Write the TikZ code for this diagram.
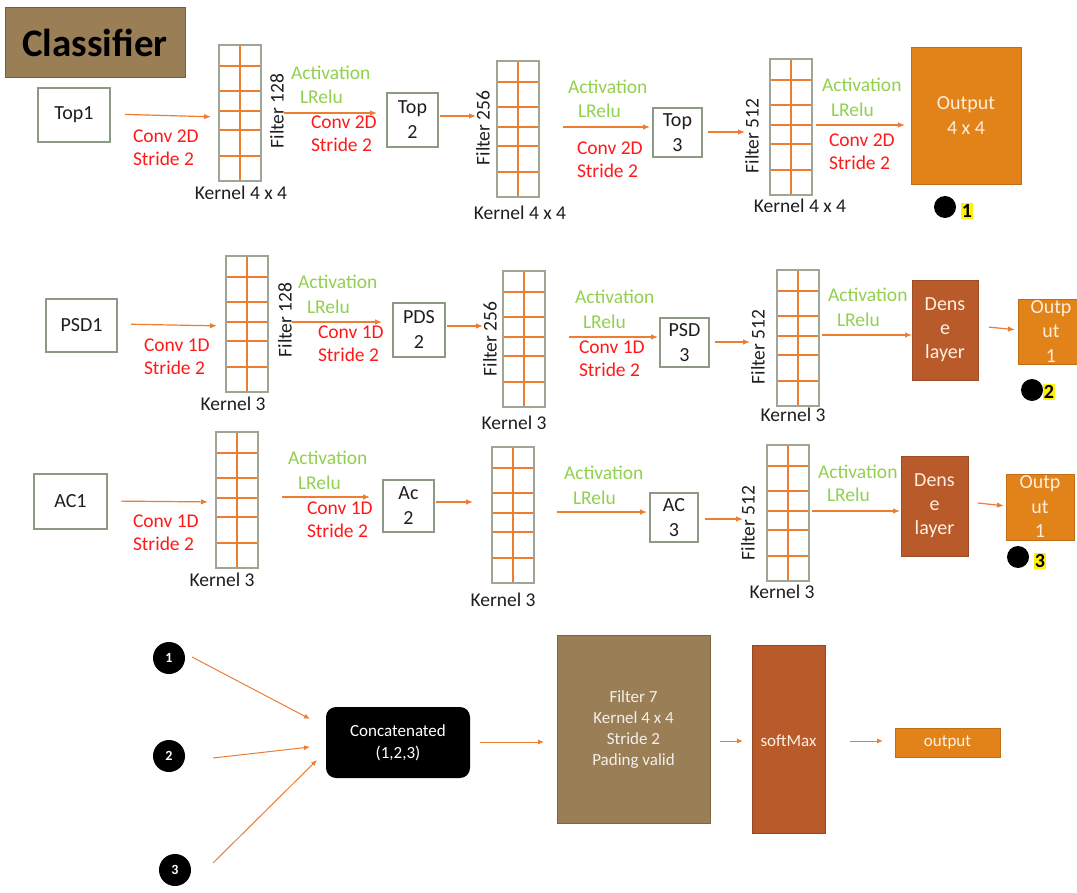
\documentclass[tikz,border=0pt]{standalone}
\usepackage{fontspec}
\setmainfont{Carlito}
\usetikzlibrary{arrows.meta,calc}

\definecolor{arrorange}{HTML}{ED7D31}
\definecolor{gridgray}{HTML}{9CA893}
\definecolor{boxgray}{HTML}{8C9985}
\definecolor{convred}{HTML}{FF1A1A}
\definecolor{actgreen}{HTML}{92D050}
\definecolor{outorange}{HTML}{E2831A}
\definecolor{denserust}{HTML}{B95A2B}
\definecolor{mocha}{HTML}{9A7E56}
\definecolor{inktext}{HTML}{1E1E1E}

\tikzset{
  base/.style={inner sep=0pt, outer sep=0pt},
  boxnode/.style={base, draw=boxgray, line width=1.8pt, fill=white, align=center,
    text=inktext, font=\fontsize{20}{25}\selectfont},
  outnode/.style={base, draw=outorange!85!black, line width=0.8pt, fill=outorange,
    align=center, text=white!85!orange, font=\fontsize{20}{24.5}\selectfont},
  densenode/.style={base, draw=denserust!85!black, line width=0.8pt, fill=denserust,
    align=center, text=white!88!orange, font=\fontsize{20}{24}\selectfont},
  gridcell/.style={base, minimum width=42pt, minimum height=136pt},
  gridframe/.style={draw=gridgray, line width=1.6pt},
  gridline/.style={draw=arrorange, line width=1.3pt},
  convlbl/.style={base, anchor=west, align=left, text=convred, font=\fontsize{19.5}{23}\selectfont},
  actlbl/.style={base, anchor=west, text=actgreen, font=\fontsize{19.5}{23}\selectfont},
  kernlbl/.style={base, text=inktext, font=\fontsize{19.5}{23}\selectfont},
  filtlbl/.style={base, rotate=90, text=inktext, font=\fontsize{19.5}{23}\selectfont},
  arr/.style={draw=arrorange, line width=1.2pt, -{Latex[length=7pt,width=5.5pt]}},
  thinarr/.style={draw=arrorange, line width=1pt, -{Latex[length=6pt,width=5pt]}},
  dotnode/.style={base, circle, fill=black, minimum size=22pt},
  tagnum/.style={base, fill=yellow, inner xsep=1pt, inner ysep=1.5pt, text=black,
    font=\bfseries\fontsize{20}{20}\selectfont},
  refcirc/.style={base, circle, fill=black, minimum size=32pt, text=white,
    font=\bfseries\fontsize{14}{14}\selectfont},
  titlebox/.style={base, fill=mocha, draw=mocha!75!black, line width=1pt,
    minimum width=180pt, minimum height=70pt, text=black,
    font=\bfseries\fontsize{39}{39}\selectfont},
  bigbox/.style={base, align=center, text=white!88!mocha, font=\fontsize{17}{21}\selectfont},
}

% kernel grid: name, left x, top y
\newcommand\kgrid[3]{%
  \node[gridcell] (#1) at (#2+21,#3+68) {};
  \draw[gridline] (#1.north) -- (#1.south);
  \foreach \f in {0.154,0.338,0.485,0.625,0.816}
    \draw[gridline] ($(#1.north west)!\f!(#1.south west)$) -- ($(#1.north east)!\f!(#1.south east)$);
  \draw[gridframe] (#1.north west) rectangle (#1.south east);
}

% horizontal connector: from, to, start y, end y, start gap, end gap
\newcommand\conn[6]{%
  \draw[arr, shorten <=#5pt, shorten >=#6pt] (#1.east |- 0,#3) -- (#2.west |- 0,#4);
}

\begin{document}
\begin{tikzpicture}[x=1pt,y=-1pt]
\clip (0,0) rectangle (1077,893);
\fill[white] (0,0) rectangle (1077,893);

\node[titlebox] (title) at (95,43) {Classifier};

% ---------- row 1: Top ----------
\node[boxnode, minimum width=72pt, minimum height=54pt] (top1) at (74,115) {Top1};
\kgrid{g1a}{219}{45}
\node[boxnode, minimum width=51pt, minimum height=54pt] (top2) at (412.5,120) {Top\\2};
\kgrid{g1b}{497}{61}
\node[boxnode, minimum width=49pt, minimum height=49pt] (top3) at (677.5,132.5) {Top\\3};
\kgrid{g1c}{770}{59}
\node[outnode, minimum width=110pt, minimum height=137pt] (out1) at (966,115.5) {};
\node[base, text=white!85!orange, align=center, font=\fontsize{20}{25}\selectfont] (out1txt) at (966,115.5) {Output\\4 x 4};

\node[convlbl] (cv1a) at (133,148) {Conv 2D\\Stride 2};
\node[actlbl] (ac1a) at (291,73) {Activation};
\node[actlbl] (lr1a) at (300,97) {LRelu};
\node[convlbl] (cv1b) at (311,134) {Conv 2D\\Stride 2};
\node[actlbl] (ac1b) at (568,87) {Activation};
\node[actlbl] (lr1b) at (578,111) {LRelu};
\node[convlbl] (cv1c) at (577,160) {Conv 2D\\Stride 2};
\node[actlbl] (ac1c) at (822,85) {Activation};
\node[actlbl] (lr1c) at (831,110) {LRelu};
\node[convlbl] (cv1d) at (829,152) {Conv 2D\\Stride 2};

\node[kernlbl] (k1a) at (241,193) {Kernel 4 x 4};
\node[kernlbl] (k1b) at (520,213) {Kernel 4 x 4};
\node[kernlbl] (k1c) at (800,206) {Kernel 4 x 4};
\node[filtlbl] (f1a) at (277,111) {Filter 128};
\node[filtlbl] (f1b) at (483,128) {Filter 256};
\node[filtlbl] (f1c) at (752,136) {Filter 512};

\node[dotnode] (d1) at (945,207) {};
\node[tagnum] (n1) at (967,211) {1};

\conn{top1}{g1a}{114}{117}{15}{8}
\conn{g1a}{top2}{113}{113}{23}{10}
\conn{top2}{g1b}{116}{116}{2}{21}
\conn{g1b}{top3}{127}{127}{24}{3}
\conn{top3}{g1c}{132}{132}{6}{25}
\conn{g1c}{out1}{125}{125}{4}{6}

% ---------- row 2: PSD ----------
\node[boxnode, minimum width=71pt, minimum height=53pt] (psd1) at (81.5,325.5) {PSD1};
\kgrid{g2a}{226}{256}
\node[boxnode, minimum width=52pt, minimum height=54pt] (pds2) at (419,330) {PDS\\2};
\kgrid{g2b}{503}{271}
\node[boxnode, minimum width=49pt, minimum height=49pt] (psd3) at (684.5,342.5) {PSD\\3};
\kgrid{g2c}{777}{270}
\node[densenode, minimum width=66pt, minimum height=100pt] (dense2) at (945,330) {Dens\\e\\layer};
\node[outnode, minimum width=66pt, minimum height=65pt] (out2) at (1051,331.5) {Outp\\ut\\1};

\node[convlbl] (cv2a) at (144,357) {Conv 1D\\Stride 2};
\node[actlbl] (ac2a) at (298,282) {Activation};
\node[actlbl] (lr2a) at (307,307) {LRelu};
\node[convlbl] (cv2b) at (318,344) {Conv 1D\\Stride 2};
\node[actlbl] (ac2b) at (575,297) {Activation};
\node[actlbl] (lr2b) at (583,322) {LRelu};
\node[convlbl] (cv2c) at (579,359) {Conv 1D\\Stride 2};
\node[actlbl] (ac2c) at (828,295) {Activation};
\node[actlbl] (lr2c) at (837,320) {LRelu};

\node[kernlbl] (k2a) at (233,404) {Kernel 3};
\node[kernlbl] (k2b) at (514,423) {Kernel 3};
\node[kernlbl] (k2c) at (793,415) {Kernel 3};
\node[filtlbl] (f2a) at (285,320) {Filter 128};
\node[filtlbl] (f2b) at (490,339) {Filter 256};
\node[filtlbl] (f2c) at (758,347) {Filter 512};

\node[dotnode] (d2) at (1032,390) {};
\node[tagnum] (n2) at (1049,392) {2};

\conn{psd1}{g2a}{324}{326}{14}{9}
\conn{g2a}{pds2}{322}{322}{24}{11}
\conn{pds2}{g2b}{326}{326}{2}{20}
\conn{g2b}{psd3}{337}{337}{24}{2}
\conn{psd3}{g2c}{342}{342}{6}{27}
\conn{g2c}{dense2}{335}{335}{3}{0}
\conn{dense2}{out2}{326}{330}{11}{3}

% ---------- row 3: AC ----------
\node[boxnode, minimum width=73pt, minimum height=55pt] (ac1) at (70.5,501.5) {AC1};
\kgrid{g3a}{216}{432}
\node[boxnode, minimum width=51pt, minimum height=52pt] (ac2) at (408.5,506) {Ac\\2};
\kgrid{g3b}{492}{447}
\node[boxnode, minimum width=48pt, minimum height=49pt] (ac3) at (674,517.5) {AC\\3};
\kgrid{g3c}{767}{445}
\node[densenode, minimum width=67pt, minimum height=100pt] (dense3) at (934.5,506) {Dens\\e\\layer};
\node[outnode, minimum width=68pt, minimum height=66pt] (out3) at (1040,507) {Outp\\ut\\1};

\node[convlbl] (cv3a) at (133,533) {Conv 1D\\Stride 2};
\node[actlbl] (ac3a) at (288,458) {Activation};
\node[actlbl] (lr3a) at (298,483) {LRelu};
\node[convlbl] (cv3b) at (307,520) {Conv 1D\\Stride 2};
\node[actlbl] (ac3b) at (564,473) {Activation};
\node[actlbl] (lr3b) at (573,498) {LRelu};
\node[actlbl] (ac3c) at (818,472) {Activation};
\node[actlbl] (lr3c) at (827,495) {LRelu};

\node[kernlbl] (k3a) at (222,580) {Kernel 3};
\node[kernlbl] (k3b) at (503,600) {Kernel 3};
\node[kernlbl] (k3c) at (782,592) {Kernel 3};
\node[filtlbl] (f3c) at (748,523) {Filter 512};

\node[dotnode] (d3) at (1018,557) {};
\node[tagnum] (n3) at (1040,561) {3};

\conn{ac1}{g3a}{501}{502}{14}{8}
\conn{g3a}{ac2}{497}{497}{24}{13}
\conn{ac2}{g3b}{502}{502}{2}{19}
\conn{g3b}{ac3}{512}{512}{23}{3}
\conn{ac3}{g3c}{519}{519}{7}{24}
\conn{g3c}{dense3}{511}{511}{3}{1}
\conn{dense3}{out3}{502}{506}{10}{2}

% ---------- merge stage ----------
\node[refcirc] (c1) at (169,658) {1};
\node[refcirc] (c2) at (169,756) {2};
\node[refcirc] (c3) at (175,870) {3};
\node[base, fill=black, rounded corners=10pt, minimum width=144pt, minimum height=71pt,
  align=center, text=white, font=\fontsize{17}{22}\selectfont] (cc) at (398,742.5) {Concatenated\\(1,2,3)};
\node[bigbox, fill=mocha, draw=mocha!80!black, line width=0.6pt, minimum width=153pt, minimum height=188pt] (filt) at (633.5,729) {};
\node[bigbox] (filttxt) at (633.5,730) {Filter 7\\Kernel 4 x 4\\Stride 2\\Pading valid};
\node[bigbox, fill=denserust, draw=denserust!80!black, line width=0.6pt, minimum width=73pt, minimum height=188pt] (soft) at (788.5,739) {};
\node[bigbox, text=white!88!orange] (softtxt) at (788.5,741) {softMax};
\node[bigbox, fill=outorange, draw=outorange!85!black, line width=0.6pt, text=white!88!orange,
  minimum width=105pt, minimum height=29pt] (outb) at (947.5,742.5) {output};

\draw[thinarr] ([xshift=23pt,yshift=1pt]c1.center) -- ([xshift=-16pt,yshift=23.5pt]cc.west);
\draw[thinarr] ([xshift=44pt,yshift=-2pt]c2.center) -- ([xshift=-16pt,yshift=-4.5pt]cc.west);
\draw[thinarr] ([xshift=38pt,yshift=7pt]c3.center) -- ([xshift=-9pt,yshift=-17.5pt]cc.west);
\draw[thinarr, shorten <=10pt, shorten >=13pt] (cc.east |- 0,742) -- (filt.west |- 0,742);
\draw[thinarr, shorten <=10pt, shorten >=9pt] (filt.east |- 0,741) -- (soft.west |- 0,741);
\draw[thinarr, shorten <=25pt, shorten >=12pt] (soft.east |- 0,741) -- (outb.west |- 0,741);
\end{tikzpicture}
\end{document}
